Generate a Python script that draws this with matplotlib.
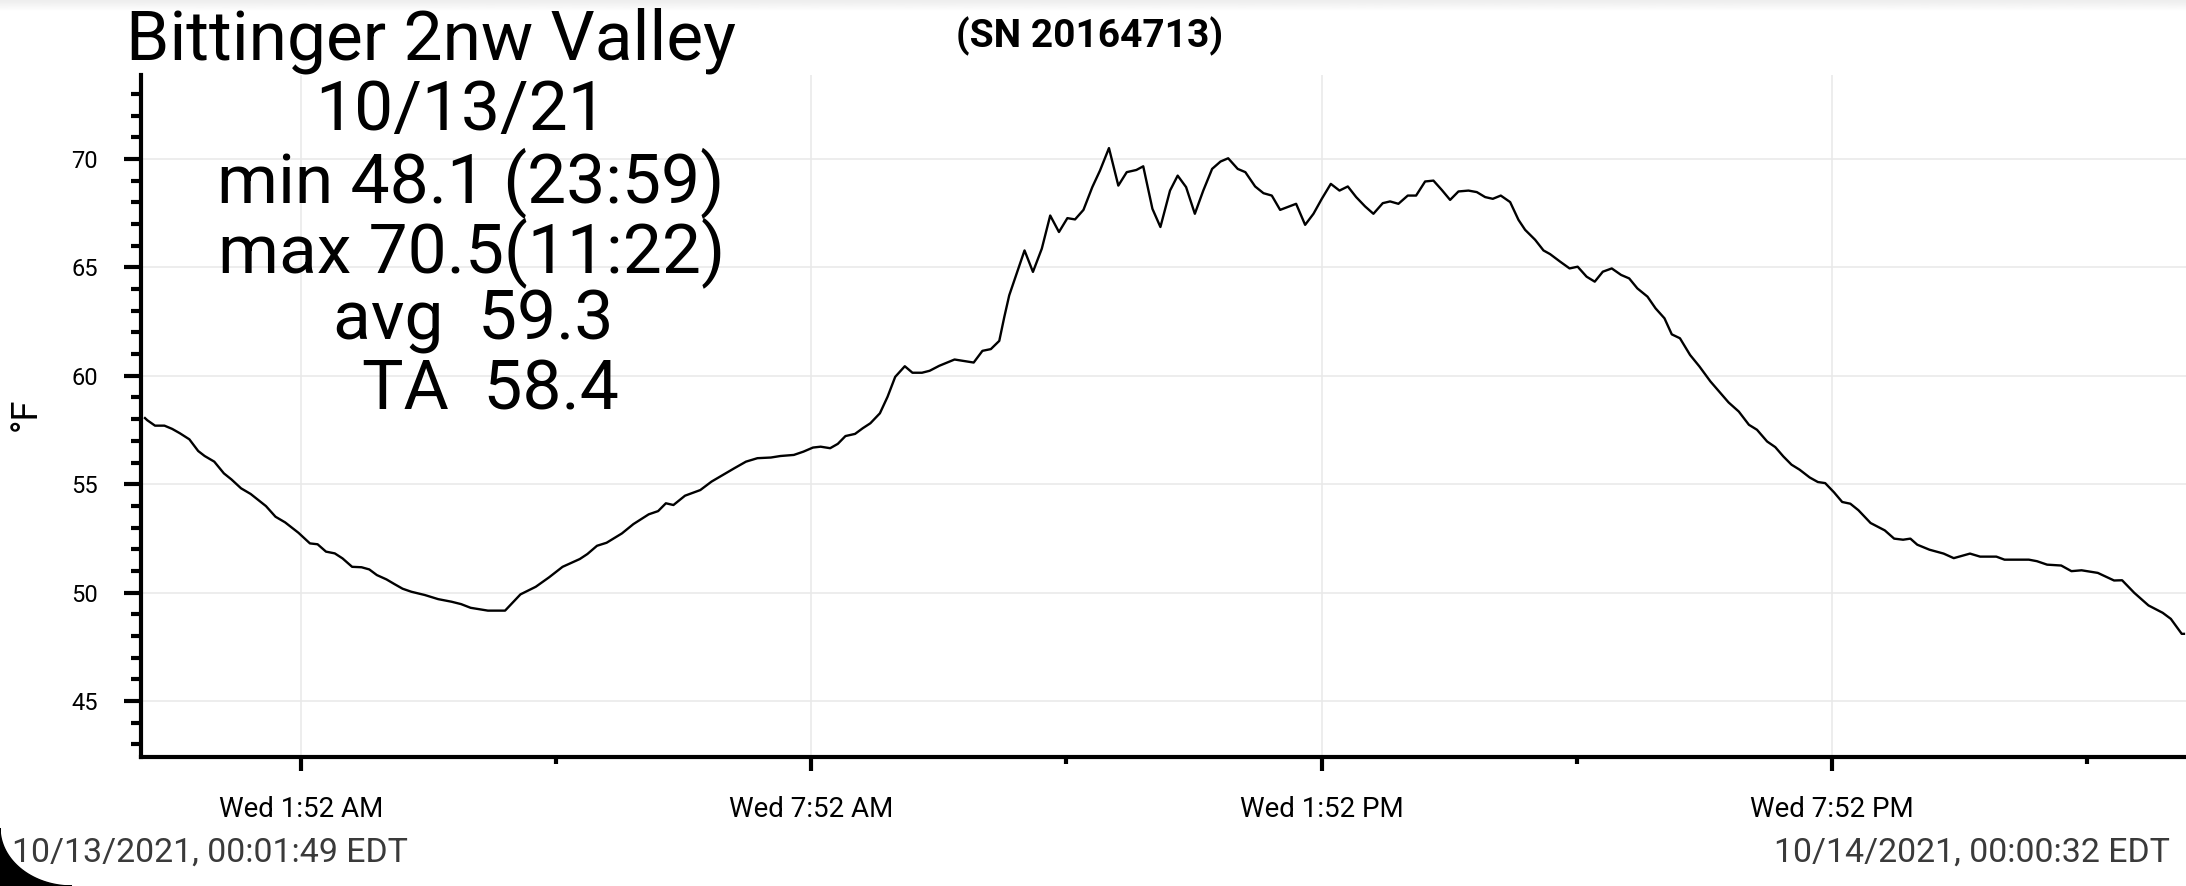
import matplotlib
matplotlib.use("Agg")
import matplotlib.pyplot as plt
import matplotlib.dates as mdates
from matplotlib.ticker import MultipleLocator
import numpy as np
import pandas as pd

plt.rcParams['font.family'] = ['Roboto', 'DejaVu Sans']

# hours after midnight 10/13/2021 (EDT), temperature in F
hours = [0.030, 0.057, 0.148, 0.259, 0.350, 0.440, 0.552, 0.656, 0.732, 0.845,
         0.958, 1.047, 1.160, 1.273, 1.453, 1.565, 1.678, 1.835, 1.970, 2.060,
         2.159, 2.262, 2.353, 2.466, 2.577, 2.668, 2.757, 2.870, 2.961, 3.060,
         3.163, 3.321, 3.478, 3.636, 3.748, 3.860, 4.063, 4.265, 4.446, 4.626,
         4.784, 4.941, 5.144, 5.233, 5.346, 5.459, 5.639, 5.774, 5.954, 6.065,
         6.156, 6.245, 6.381, 6.561, 6.693, 6.828, 6.963, 7.098, 7.233, 7.391,
         7.503, 7.661, 7.773, 7.886, 7.976, 8.088, 8.178, 8.268, 8.381, 8.471,
         8.561, 8.673, 8.763, 8.853, 8.966, 9.056, 9.168, 9.258, 9.371, 9.551,
         9.776, 9.879, 9.978, 10.077, 10.136, 10.194, 10.374, 10.473, 10.577, 10.676,
         10.779, 10.878, 10.968, 11.067, 11.171, 11.261, 11.367, 11.477, 11.576, 11.689,
         11.770, 11.878, 11.972, 12.085, 12.175, 12.274, 12.377, 12.476, 12.580, 12.679,
         12.769, 12.881, 12.971, 13.086, 13.184, 13.282, 13.380, 13.568, 13.674, 13.772,
         13.870, 13.976, 14.078, 14.176, 14.274, 14.379, 14.477, 14.587, 14.673, 14.771,
         14.881, 14.979, 15.085, 15.183, 15.281, 15.379, 15.477, 15.595, 15.693, 15.791,
         15.881, 15.975, 16.085, 16.183, 16.261, 16.379, 16.477, 16.555, 16.674, 16.784,
         16.879, 16.984, 17.080, 17.175, 17.280, 17.390, 17.485, 17.581, 17.700, 17.795,
         17.900, 17.986, 18.082, 18.201, 18.311, 18.440, 18.559, 18.654, 18.774, 18.893,
         18.988, 19.107, 19.203, 19.298, 19.394, 19.489, 19.608, 19.704, 19.790, 19.895,
         19.990, 20.086, 20.181, 20.324, 20.491, 20.601, 20.706, 20.792, 20.873, 21.016,
         21.183, 21.302, 21.493, 21.612, 21.803, 21.899, 22.185, 22.280, 22.400, 22.566,
         22.686, 22.805, 22.996, 23.187, 23.282, 23.425, 23.592, 23.759, 23.855, 23.983,
         24.009]
temps = [58.05, 57.95, 57.70, 57.70, 57.55, 57.35, 57.07, 56.53, 56.30, 56.04,
         55.50, 55.22, 54.81, 54.55, 53.99, 53.50, 53.24, 52.76, 52.27, 52.23,
         51.89, 51.81, 51.58, 51.19, 51.17, 51.07, 50.81, 50.61, 50.40, 50.18,
         50.04, 49.89, 49.70, 49.58, 49.47, 49.30, 49.17, 49.17, 49.92, 50.27,
         50.71, 51.19, 51.55, 51.78, 52.16, 52.30, 52.73, 53.16, 53.61, 53.76,
         54.12, 54.04, 54.47, 54.73, 55.12, 55.43, 55.74, 56.04, 56.20, 56.23,
         56.30, 56.35, 56.50, 56.69, 56.73, 56.66, 56.86, 57.22, 57.32, 57.58,
         57.81, 58.27, 59.03, 59.95, 60.44, 60.14, 60.14, 60.23, 60.46, 60.75,
         60.61, 61.15, 61.23, 61.61, 62.71, 63.71, 65.78, 64.79, 65.86, 67.39,
         66.63, 67.27, 67.21, 67.65, 68.70, 69.46, 70.50, 68.77, 69.39, 69.49,
         69.66, 67.70, 66.86, 68.54, 69.23, 68.70, 67.47, 68.54, 69.54, 69.88,
         70.03, 69.54, 69.39, 68.73, 68.42, 68.31, 67.65, 67.93, 66.96, 67.47,
         68.16, 68.85, 68.54, 68.73, 68.24, 67.81, 67.47, 67.96, 68.04, 67.93,
         68.31, 68.31, 68.96, 69.00, 68.57, 68.11, 68.50, 68.54, 68.47, 68.24,
         68.16, 68.31, 68.01, 67.19, 66.73, 66.27, 65.78, 65.61, 65.26, 64.95,
         65.03, 64.57, 64.34, 64.80, 64.95, 64.65, 64.49, 64.03, 63.65, 63.11,
         62.65, 61.91, 61.73, 60.96, 60.43, 59.74, 59.20, 58.77, 58.35, 57.74,
         57.51, 56.97, 56.71, 56.28, 55.90, 55.67, 55.31, 55.10, 55.05, 54.62,
         54.18, 54.10, 53.80, 53.21, 52.87, 52.49, 52.44, 52.49, 52.21, 51.98,
         51.80, 51.59, 51.80, 51.66, 51.66, 51.52, 51.52, 51.45, 51.29, 51.25,
         50.99, 51.03, 50.91, 50.56, 50.57, 49.99, 49.41, 49.07, 48.79, 48.10,
         48.10]

title = "Bittinger 2nw Valley"
stats_lines = ["10/13/21", "min 48.1 (23:59)", "max 70.5(11:22)", "avg  59.3", "TA  58.4"]
serial = "(SN 20164713)"
start_label = "10/13/2021, 00:01:49 EDT"
end_label = "10/14/2021, 00:00:32 EDT"
ylabel = "°F"

day0 = pd.Timestamp("2021-10-13 00:00")
t = day0 + pd.to_timedelta(hours, unit="h")

W, H = 2186, 886
fig = plt.figure(figsize=(W / 100, H / 100), dpi=100)
ax = fig.add_axes([141 / W, 129 / H, (W - 141) / W, (757 - 75) / H])

ax.plot(t, temps, color="black", lw=1.7)

ax.set_xlim(day0 - pd.Timedelta(minutes=1), day0 + pd.Timedelta(hours=24, minutes=2))
ax.set_ylim(42.42, 73.87)

# ticks every 6 h starting at 1:52, minor ones half way
major = pd.date_range("2021-10-13 01:52", periods=4, freq="6h")
minor = pd.date_range("2021-10-13 04:52", periods=4, freq="6h")
ax.set_xticks(major)
ax.set_xticks(minor, minor=True)
ax.xaxis.set_major_formatter(mdates.DateFormatter("%a %-I:%M %p"))

ax.yaxis.set_major_locator(MultipleLocator(5))
ax.yaxis.set_minor_locator(MultipleLocator(1))

for s in ["top", "right"]:
    ax.spines[s].set_visible(False)
for s in ["left", "bottom"]:
    ax.spines[s].set_linewidth(3)

ax.grid(True, which="major", color="#e8e8e8", lw=1.1)
ax.set_axisbelow(True)

ax.tick_params(axis="y", which="major", length=12, width=3, labelsize=17, pad=19)
ax.tick_params(axis="y", which="minor", length=7, width=3)
ax.tick_params(axis="x", which="major", length=10, width=3, labelsize=20, pad=18)
ax.tick_params(axis="x", which="minor", length=5, width=3)

fig.text(26 / W, 1 - 414 / H, ylabel, rotation=90, ha="center", va="center", fontsize=26)

fig.text(431 / W, 1 - 60 / H, title, ha="center", va="baseline", fontsize=50)
centers = [461, 471, 472, 473, 490]
baselines = [130, 202, 272, 340, 410]
for txt, cx, by in zip(stats_lines, centers, baselines):
    fig.text(cx / W, 1 - by / H, txt, ha="center", va="baseline", fontsize=50)

fig.text(1090 / W, 1 - 47 / H, serial, ha="center", va="baseline", fontsize=28, fontweight="bold")
fig.text(12 / W, 1 - 862 / H, start_label, ha="left", va="baseline", fontsize=24.4, color="#3a3a3a")
fig.text(2170 / W, 1 - 862 / H, end_label, ha="right", va="baseline", fontsize=24.4, color="#3a3a3a")

# screenshot rounded corner (bottom-left) and faint top shadow
th = np.linspace(np.pi, 1.5 * np.pi, 40)
cx_, cy_ = 72, 886 - 58
arc_x = cx_ + 72 * np.cos(th)
arc_y = cy_ - 58 * np.sin(th)
px = np.concatenate([[0], arc_x, [0]])
py = np.concatenate([[886], arc_y, [886]])
fig.patches.append(plt.Polygon(np.column_stack([px / W, 1 - py / H]), closed=True,
                               color="black", transform=fig.transFigure, figure=fig))
shade = fig.add_axes([0, 1 - 12 / H, 1, 12 / H])
shade.imshow(np.linspace(0.93, 1, 20).reshape(-1, 1), cmap="gray", vmin=0, vmax=1,
             aspect="auto", extent=[0, 1, 0, 1])
shade.axis("off")

fig.savefig("out.png", dpi=100)
